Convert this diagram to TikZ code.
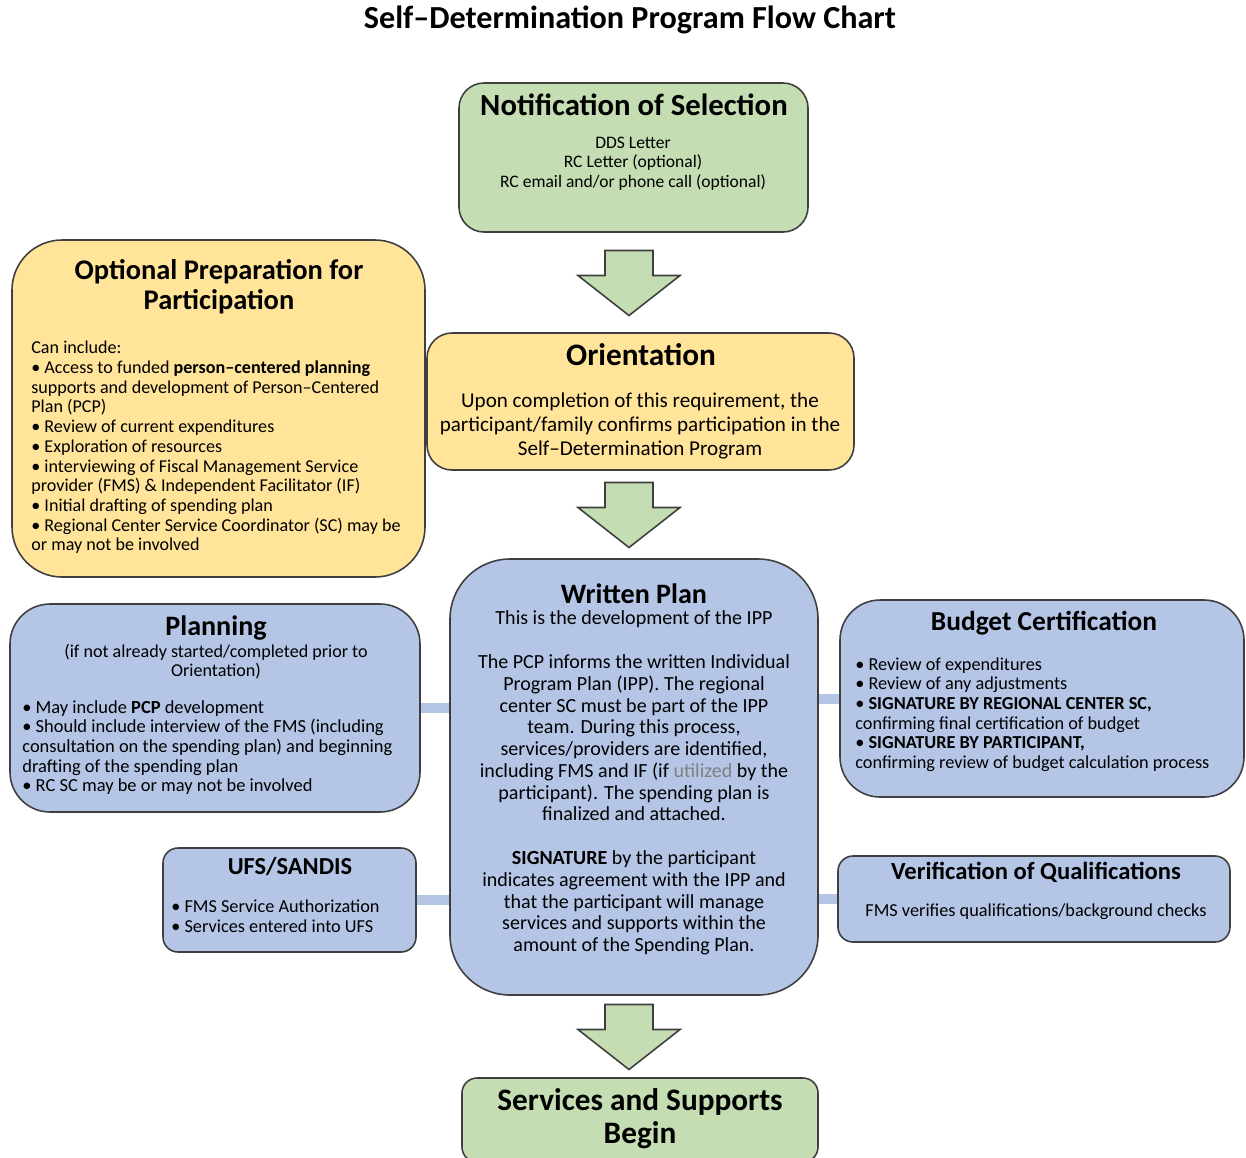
\documentclass[tikz,border=0pt]{standalone}
\usepackage{fontspec}
\setmainfont{Carlito}
\usetikzlibrary{positioning,fit,calc,backgrounds}
\definecolor{notegreen}{HTML}{C4DDB2}
\definecolor{noteyellow}{HTML}{FFE49A}
\definecolor{noteblue}{HTML}{B4C5E6}
\definecolor{edgegray}{HTML}{3F3F3F}

\begin{document}
\begin{tikzpicture}[x=0.02cm,y=-0.02cm,
  stage/.style={draw=edgegray,line width=0.9pt,inner sep=0pt,rectangle},
  head/.style={font=\bfseries\fontsize{16}{19}\selectfont,align=center,inner sep=0pt},
  body/.style={font=\fontsize{10.4}{11.2}\selectfont,align=center,inner sep=0pt},
  list/.style={font=\fontsize{10.4}{11.2}\selectfont,align=left,anchor=west,inner sep=0pt},
  link/.style={noteblue,line width=0.2cm},
  blockarrow/.style={fill=notegreen,draw=edgegray,line width=0.9pt}]
\useasboundingbox (0,0) rectangle (1246,1157);

\node[font=\bfseries\fontsize{18.3}{21}\selectfont] (title) at (630,20) {Self--Determination Program Flow Chart};

% the stages
\node[stage,fill=notegreen,rounded corners=0.5cm,fit={(459,83) (808,232)}] (notif) {};
\node[stage,fill=noteyellow,rounded corners=1cm,fit={(12,240) (425,577)}] (prep) {};
\node[stage,fill=noteyellow,rounded corners=0.5cm,fit={(427,333) (854,470)}] (orient) {};
\node[stage,fill=noteblue,rounded corners=1.2cm,fit={(450,559) (818,995)}] (written) {};
\node[stage,fill=noteblue,rounded corners=0.8cm,fit={(10,604) (420,812)}] (plan) {};
\node[stage,fill=noteblue,rounded corners=0.3cm,fit={(163,848) (416,952)}] (ufs) {};
\node[stage,fill=noteblue,rounded corners=0.8cm,fit={(840,600) (1244,797)}] (budget) {};
\node[stage,fill=noteblue,rounded corners=0.3cm,fit={(838,856) (1230,942)}] (verify) {};
\node[stage,fill=notegreen,rounded corners=0.3cm,fit={(462,1078) (818,1162)}] (services) {};

% side links to the written plan
\begin{scope}[on background layer]
\draw[link] (plan.east) -- (plan.east -| written.west);
\draw[link] (ufs.east) -- (ufs.east -| written.west);
\draw[link] (budget.west) -- (budget.west -| written.east);
\draw[link] (verify.west) -- (verify.west -| written.east);
\end{scope}

% big down arrows
\coordinate (axis) at (629,0);
\foreach \a/\b in {notif/orient,orient/written,written/services}{
  \coordinate (mid) at ($(\a.south)!0.5!(\b.north)$);
  \draw[blockarrow] (axis |- mid) ++(-24,-32) -- ++(48,0) -- ++(0,25) -- ++(27,0)
    -- ++(-51,40) -- ++(-51,-40) -- ++(27,0) -- cycle;
}

% texts
\node[head,font=\bfseries\fontsize{17.5}{20}\selectfont] (notifHead) at (634,105) {Notification of Selection};
\node[body,font=\fontsize{10}{11}\selectfont] (notifBody) at (633,163.5) {DDS Letter\\RC Letter (optional)\\RC email and/or phone call (optional)};

\node[head,font=\bfseries\fontsize{16.2}{17}\selectfont] (prepHead) at (219,287) {Optional Preparation for\\Participation};
\node[list,font=\fontsize{10.3}{11.2}\selectfont] (prepBody) at (31,447.5) {Can include:\\
\textbullet\ Access to funded \textbf{person--centered planning}\\
supports and development of Person--Centered\\
Plan (PCP)\\
\textbullet\ Review of current expenditures\\
\textbullet\ Exploration of resources\\
\textbullet\ interviewing of Fiscal Management Service\\
provider (FMS) \& Independent Facilitator (IF)\\
\textbullet\ Initial drafting of spending plan\\
\textbullet\ Regional Center Service Coordinator (SC) may be\\
or may not be involved};

\node[head,font=\bfseries\fontsize{17.8}{20}\selectfont] (orientHead) at (641,355) {Orientation};
\node[body,font=\fontsize{12}{13.9}\selectfont] (orientBody) at (640,426) {Upon completion of this requirement, the\\participant/family confirms participation in the\\Self--Determination Program};

\node[head] (writtenHead) at (634,594) {Written Plan};
\node[body,font=\fontsize{11.4}{12.4}\selectfont] (writtenBody) at (634,783) {This is the development of the IPP\\[12.4pt]
The PCP informs the written Individual\\
Program Plan (IPP). The regional\\
center SC must be part of the IPP\\
team. During this process,\\
services/providers are identified,\\
including FMS and IF (if {\color{gray}utilized} by the\\
participant). The spending plan is\\
finalized and attached.\\[12.4pt]
\textbf{SIGNATURE} by the participant\\
indicates agreement with the IPP and\\
that the participant will manage\\
services and supports within the\\
amount of the Spending Plan.};

\node[head] (planHead) at (216,628) {Planning};
\node[body,font=\fontsize{10.3}{11}\selectfont] (planNote) at (216,661.5) {(if not already started/completed prior to\\Orientation)};
\node[list,font=\fontsize{10.5}{11.2}\selectfont] (planBody) at (22,747.5) {\textbullet\ May include \textbf{PCP} development\\
\textbullet\ Should include interview of the FMS (including\\
consultation on the spending plan) and beginning\\
drafting of the spending plan\\
\textbullet\ RC SC may be or may not be involved};

\node[head,font=\bfseries\fontsize{13.9}{16}\selectfont] (ufsHead) at (290,866) {UFS/SANDIS};
\node[list] (ufsBody) at (171,916.5) {\textbullet\ FMS Service Authorization\\\textbullet\ Services entered into UFS};

\node[head,font=\bfseries\fontsize{15.6}{18}\selectfont] (budgetHead) at (1044,623) {Budget Certification};
\node[list] (budgetBody) at (855,714.5) {\textbullet\ Review of expenditures\\
\textbullet\ Review of any adjustments\\
\textbullet\ \textbf{SIGNATURE BY REGIONAL CENTER SC,}\\
confirming final certification of budget\\
\textbullet\ \textbf{SIGNATURE BY PARTICIPANT,}\\
confirming review of budget calculation process};

\node[head,font=\bfseries\fontsize{14}{16}\selectfont] (verifyHead) at (1036,872) {Verification of Qualifications};
\node[body] (verifyBody) at (1036,912) {FMS verifies qualifications/background checks};

\node[head,font=\bfseries\fontsize{17.8}{18.7}\selectfont] (servicesHead) at (640,1118.5) {Services and Supports\\Begin};

\end{tikzpicture}
\end{document}
